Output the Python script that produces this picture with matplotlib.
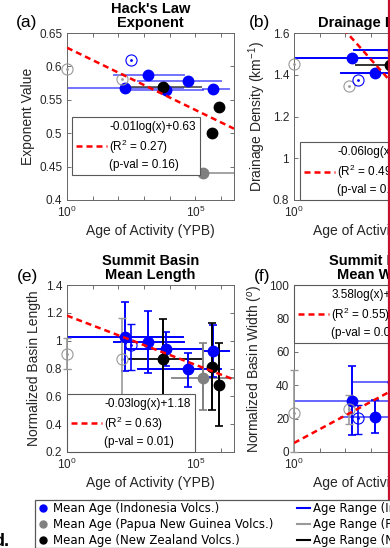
import numpy as np
import matplotlib.pyplot as plt
from matplotlib.lines import Line2D
from matplotlib.ticker import FixedLocator, FuncFormatter, NullFormatter

plt.rcParams['font.family'] = 'Liberation Sans'
plt.rcParams['mathtext.fontset'] = 'custom'
plt.rcParams['mathtext.rm'] = 'Liberation Sans'
plt.rcParams['mathtext.it'] = 'Liberation Sans:italic'
plt.rcParams['mathtext.bf'] = 'Liberation Sans:bold'

nan = np.nan

# age of activity (years before present): mean and age range of each volcano
indo_age = [186, 1450, 7100, 52000, 500000]
indo_lo = [1, 70, 220, 600, 200000]
indo_hi = [32000, 35000, 200000, 1000000, 2000000]
png_age = [200000]
png_lo = [12600]
png_hi = [10000000]
nz_age = [5600, 800000, 460000]
nz_lo = [250, 800000, 460000]
nz_hi = [160000, 800000, 460000]

# volcanoes left out of the fit (open circles)
out_age = [1, 141, 316]
out_color = ['0.6', '0.6', 'blue']

# (a) Hack's law exponent
hack_indo = [0.568, 0.587, 0.564, 0.578, 0.566]
hack_png = [0.44]
hack_nz = [0.569, 0.539, 0.500]
hack_out = [0.596, 0.581, 0.610]

# (b) drainage density
dd_indo = [1.48, 1.41, 1.52, nan, nan]
dd_png = [nan]
dd_nz = [1.447, nan, nan]
dd_out = [1.45, 1.346, 1.375]

# (e) summit basin mean length, with error bar ends
len_indo = [1.026, 0.99, 0.94, 0.796, 0.925]
len_indo_top = [1.28, 1.21, 1.06, 0.91, 1.11]
len_indo_bot = [0.78, 0.77, 0.82, 0.67, 0.74]
len_png = [0.73]
len_png_top = [0.98]
len_png_bot = [0.50]
len_nz = [0.868, 0.68, 0.81]
len_nz_top = [1.155, 0.98, 1.13]
len_nz_bot = [0.60, 0.385, 0.50]
len_out = [0.904, 0.867, 0.97]
len_out_top = [1.02, 1.16, 1.12]
len_out_bot = [0.80, 0.57, 0.79]

# (f) summit basin mean width
wid_indo = [30.5, 21.0, 42.0, nan, nan]
wid_indo_top = [51.5, 31.0, 55.0, nan, nan]
wid_indo_bot = [10.0, 11.4, 30.0, nan, nan]
wid_png = [nan]
wid_nz = [nan, nan, nan]
wid_out = [23.4, 25.7, 20.4]
wid_out_top = [49.0, 34.0, 28.0]
wid_out_bot = [0.0, 17.0, 11.0]

# fits: a*log(x)+b (natural log)
fit_a = [-0.0081, -0.0596, -0.0307, 3.58]
fit_b = [0.628, 1.884, 1.18, 5.4]
fit_text = ['-0.01log(x)+0.63\n(R$^2$ = 0.27)\n(p-val = 0.16)',
            '-0.06log(x)+1.88\n(R$^2$ = 0.49)\n(p-val = 0.05)',
            '-0.03log(x)+1.18\n(R$^2$ = 0.63)\n(p-val = 0.01)',
            '3.58log(x)+5.40\n(R$^2$ = 0.55)\n(p-val = 0.03)']

W, H = 390, 548
fig = plt.figure(figsize=(W / 100, H / 100), dpi=100)


def add_ax(left, top, w=167, h=167):
    return fig.add_axes([left / W, 1 - (top + h) / H, w / W, h / H])


def style(ax, ylim, yticks, ylabel, title):
    ax.set_xscale('log')
    ax.set_xlim(1, 10 ** 6.5)
    ax.set_ylim(*ylim)
    ax.xaxis.set_major_locator(FixedLocator([1, 1e5]))
    ax.xaxis.set_minor_locator(FixedLocator([10.0 ** k for k in range(7)]))
    ax.xaxis.set_minor_formatter(NullFormatter())
    ax.xaxis.set_major_formatter(FuncFormatter(lambda v, p: r'$10^{%d}$' % round(np.log10(v))))
    ax.set_yticks(yticks)
    ax.yaxis.set_major_formatter(FuncFormatter(lambda v, p: '%g' % round(v, 3)))
    ax.tick_params(which='both', direction='in', top=True, right=True, length=3,
                   width=0.6, labelsize=8.5, labelcolor='0.15', color='0.35')
    for s in ax.spines.values():
        s.set_color('0.4')
        s.set_linewidth(0.7)
    ax.set_xlabel('Age of Activity (YPB)', fontsize=10, color='0.15', labelpad=3)
    ax.set_ylabel(ylabel, fontsize=10, color='0.15', labelpad=3)
    ax.set_title(title, fontsize=10.5, fontweight='bold', pad=4, linespacing=1.05)


def draw_group(ax, age, lo, hi, val, color, line_color, line_alpha, top=None, bot=None):
    for i in range(len(age)):
        v = val[i]
        if np.isnan(v):
            continue
        if hi[i] > lo[i]:
            ax.plot([lo[i], hi[i]], [v, v], color=line_color, lw=1.4, alpha=line_alpha, zorder=2)
        if top is not None:
            ax.errorbar(age[i], v, yerr=[[v - bot[i]], [top[i] - v]], fmt='none', ecolor=color,
                        elinewidth=1.4, capsize=3, capthick=1.2, zorder=3, clip_on=False)
        ax.plot(age[i], v, 'o', color=color, ms=7.5, zorder=4, clip_on=False)


def draw_out(ax, val, top=None, bot=None):
    for i in range(len(out_age)):
        c = out_color[i]
        if top is not None:
            ax.errorbar(out_age[i], val[i], yerr=[[val[i] - bot[i]], [top[i] - val[i]]], fmt='none',
                        ecolor=c, elinewidth=1.2, capsize=3, capthick=1.0, zorder=3, clip_on=False)
        ax.plot(out_age[i], val[i], 'o', mfc='none', mec=c, ms=8, mew=0.8, zorder=4, clip_on=False)
        ax.plot(out_age[i], val[i], '.', color=c, ms=2, zorder=4, clip_on=False)


def draw_fit(ax, k, anchor, loc):
    xs = np.logspace(0, 6.5, 200)
    ax.plot(xs, fit_a[k] * np.log(xs) + fit_b[k], color='red', lw=1.8,
            ls=(0, (2.4, 1.6)), zorder=5)
    h = Line2D([], [], color='red', lw=1.8, ls=(0, (2.4, 1.6)))
    leg = ax.legend([h], [fit_text[k]], loc=loc, bbox_to_anchor=anchor, borderaxespad=0,
                    fontsize=8.5, handlelength=2.6, handletextpad=0.2, borderpad=0.35,
                    fancybox=False, edgecolor='0.35', framealpha=1)
    leg.get_frame().set_linewidth(0.8)
    leg.set_zorder(6)
    for t in leg.get_texts():
        t.set_linespacing(1.35)


# (a)
ax = add_ax(67, 33)
style(ax, (0.4, 0.65), [0.4, 0.45, 0.5, 0.55, 0.6, 0.65], 'Exponent Value', "Hack's Law\nExponent")
draw_group(ax, indo_age, indo_lo, indo_hi, hack_indo, 'blue', 'blue', 0.55)
draw_group(ax, png_age, png_lo, png_hi, hack_png, '0.5', '0.55', 0.8)
draw_group(ax, nz_age, nz_lo, nz_hi, hack_nz, 'black', '0.25', 0.8)
draw_out(ax, hack_out)
draw_fit(ax, 0, (0.03, 0.497), 'upper left')

# (b)
ax = add_ax(294, 33)
style(ax, (0.8, 1.6), [0.8, 1.0, 1.2, 1.4, 1.6], 'Drainage Density (km$^{-1}$)', 'Drainage Density')
draw_group(ax, indo_age, indo_lo, indo_hi, dd_indo, 'blue', 'blue', 1.0)
draw_group(ax, png_age, png_lo, png_hi, dd_png, '0.5', '0.55', 1.0)
draw_group(ax, nz_age, nz_lo, nz_hi, dd_nz, 'black', '0.2', 1.0)
draw_out(ax, dd_out)
draw_fit(ax, 1, (0.036, 0.347), 'upper left')

# (e)
ax = add_ax(67, 285)
style(ax, (0.2, 1.4), [0.2, 0.4, 0.6, 0.8, 1.0, 1.2, 1.4], 'Normalized Basin Length',
      'Summit Basin\nMean Length')
draw_group(ax, indo_age, indo_lo, indo_hi, len_indo, 'blue', 'blue', 1.0, len_indo_top, len_indo_bot)
draw_group(ax, png_age, png_lo, png_hi, len_png, '0.5', '0.55', 1.0, len_png_top, len_png_bot)
draw_group(ax, nz_age, nz_lo, nz_hi, len_nz, 'black', '0.1', 1.0, len_nz_top, len_nz_bot)
draw_out(ax, len_out, len_out_top, len_out_bot)
draw_fit(ax, 2, (0, 0), 'lower left')

# (f)
ax = add_ax(294, 285)
style(ax, (0, 100), [0, 20, 40, 60, 80, 100], 'Normalized Basin Width ($^o$)',
      'Summit Basin\nMean Width')
draw_group(ax, indo_age, indo_lo, indo_hi, wid_indo, 'blue', 'blue', 0.6, wid_indo_top, wid_indo_bot)
draw_out(ax, wid_out, wid_out_top, wid_out_bot)
draw_fit(ax, 3, (0, 1), 'upper left')

# panel letters
for lab, x, y in [('(a)', 27, 22), ('(b)', 260, 22), ('(e)', 28, 276), ('(f)', 262, 276)]:
    fig.text(x / W, 1 - y / H, lab, ha='center', va='center', fontsize=12.5)

# shared legend
handles = [Line2D([], [], marker='o', ls='none', color=c, ms=5) for c in ['blue', '0.5', 'black']]
handles += [Line2D([], [], color=c, lw=1.5) for c in ['blue', '0.6', 'black']]
labels = ['Mean Age (Indonesia Volcs.)', 'Mean Age (Papua New Guinea Volcs.)',
          'Mean Age (New Zealand Volcs.)', 'Age Range (Indonesia Volcs.)',
          'Age Range (Papua New Guinea Volcs.)', 'Age Range (New Zealand Volcs.)']
leg = fig.legend(handles, labels, ncol=2, loc='upper left', bbox_to_anchor=(35 / W, 1 - 500 / H),
                 prop={'family': 'DejaVu Sans', 'size': 8.5}, handlelength=1.1, handletextpad=0.25,
                 columnspacing=2.0, labelspacing=0.25, borderpad=0.15, borderaxespad=0,
                 fancybox=False, edgecolor='0.35', framealpha=1)
leg.get_frame().set_linewidth(0.9)

fig.text(9 / W, 1 - 546 / H, 'd.', ha='right', va='baseline', fontsize=13, fontweight='bold')
fig.add_artist(Line2D([388.5 / W, 388.5 / W], [0, 1], transform=fig.transFigure,
                      color='#c8102e', lw=1.6))

fig.savefig('out.png', dpi=100)
